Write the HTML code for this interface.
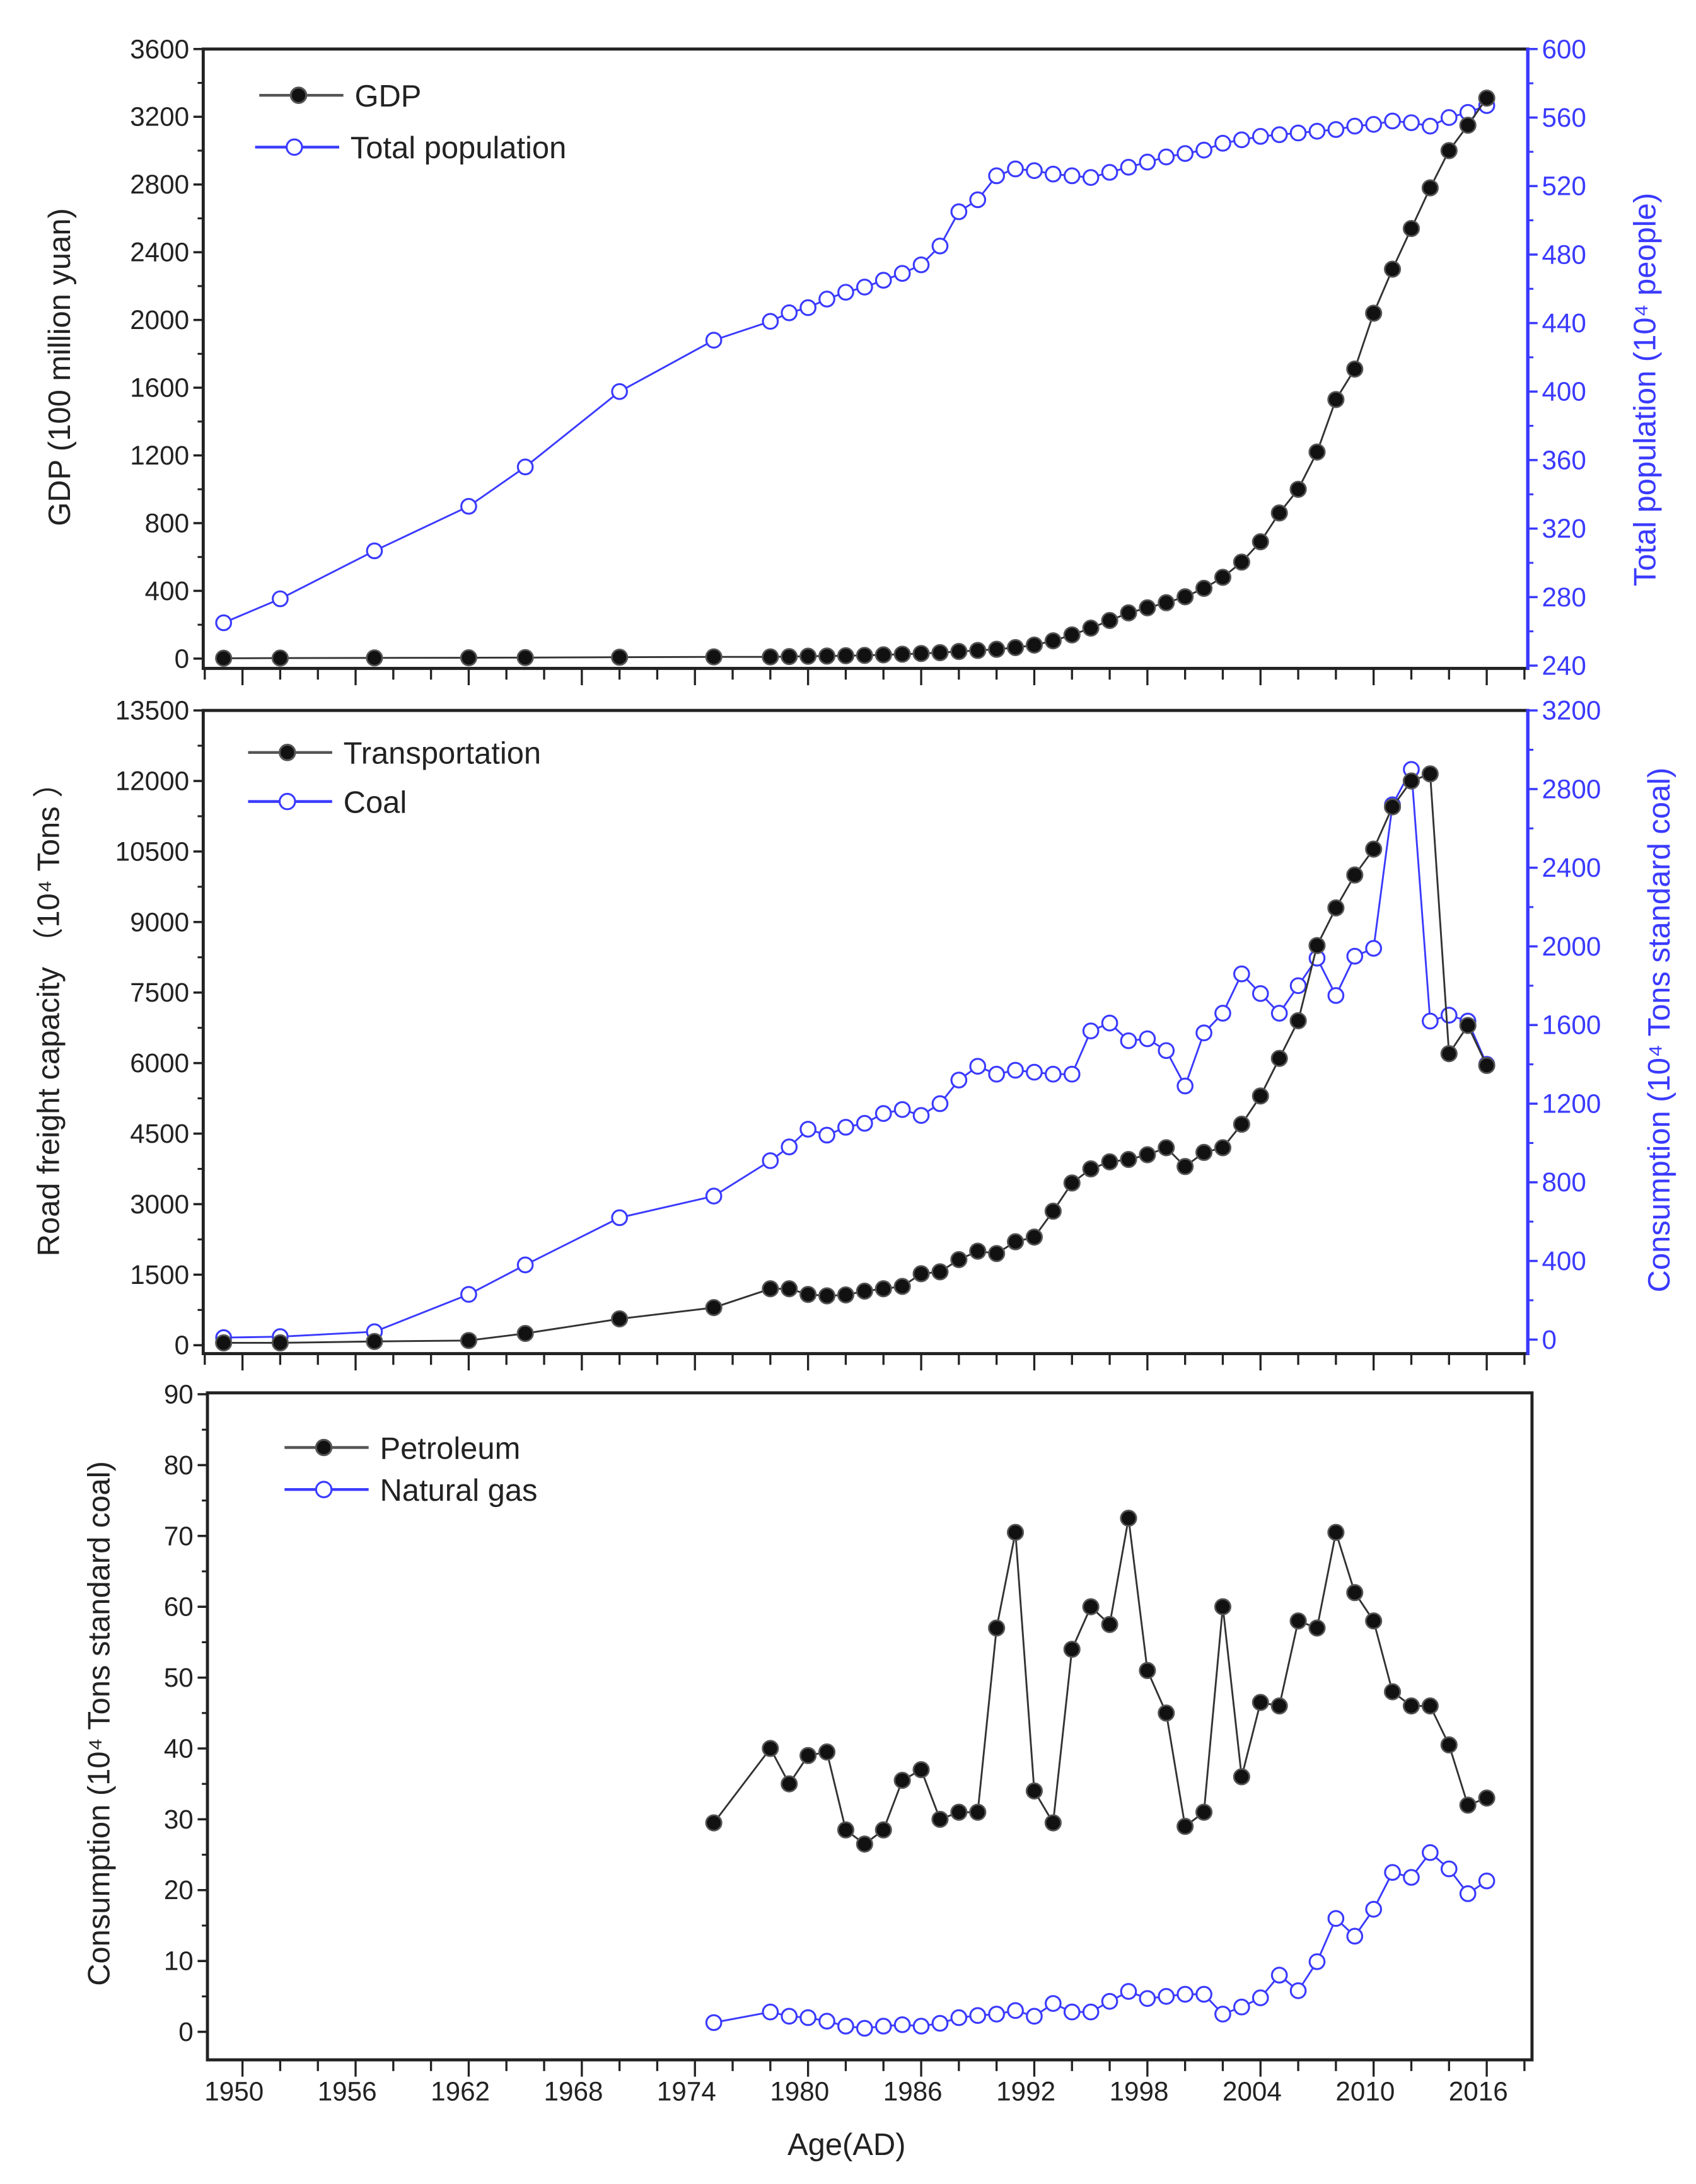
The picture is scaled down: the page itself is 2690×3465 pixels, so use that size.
<!DOCTYPE html>
<html><head><meta charset="utf-8"><style>
html,body{margin:0;padding:0;background:#fff;}
svg{display:block;}
text{font-family:"Liberation Sans",Arial,sans-serif;}
</style></head><body>
<svg id="chart" xmlns="http://www.w3.org/2000/svg" width="2690" height="3465" viewBox="0 0 1210 1558.6">
<rect width="1210" height="1558.6" fill="#fff"/>
<g id="g"></g>
</svg>
<script>
// ---- data ----
const yearsA = [1949,1952,1957,1962,1965,1970,1975,1978,1979,1980,1981,1982,1983,1984,1985,1986,1987,1988,1989,1990,1991,1992,1993,1994,1995,1996,1997,1998,1999,2000,2001,2002,2003,2004,2005,2006,2007,2008,2009,2010,2011,2012,2013,2014,2015,2016];
const gdp = [2,3,4,5,6,8,10,10,12,14,15,17,19,22,26,30,35,42,48,55,65,80,105,140,180,225,270,300,330,365,415,480,570,690,860,1000,1220,1530,1710,2040,2300,2540,2780,3000,3150,3310];
const population = [265,279,307,333,356,400,430,441,446,449,454,458,461,465,469,474,485,505,512,526,530,529,527,526,525,528,531,534,537,539,541,545,547,549,550,551,552,553,555,556,558,557,555,560,563,567];
const transport = [50,50,80,100,250,560,800,1200,1200,1080,1050,1070,1150,1200,1250,1520,1560,1820,2000,1950,2200,2300,2850,3450,3750,3900,3950,4050,4200,3800,4100,4200,4700,5300,6100,6900,8500,9300,10000,10550,11450,12000,12150,6200,6800,5950];
const coal = [10,15,40,230,380,620,730,910,980,1070,1040,1080,1100,1150,1170,1140,1200,1320,1390,1350,1370,1360,1350,1350,1570,1610,1520,1530,1470,1290,1560,1660,1860,1760,1660,1800,1940,1750,1950,1990,2720,2900,1620,1650,1620,1400];
const yearsB = [1975,1978,1979,1980,1981,1982,1983,1984,1985,1986,1987,1988,1989,1990,1991,1992,1993,1994,1995,1996,1997,1998,1999,2000,2001,2002,2003,2004,2005,2006,2007,2008,2009,2010,2011,2012,2013,2014,2015,2016];
const petroleum = [29.5,40,35,39,39.5,28.5,26.5,28.5,35.5,37,30,31,31,57,70.5,34,29.5,54,60,57.5,72.5,51,45,29,31,60,36,46.5,46,58,57,70.5,62,58,48,46,46,40.5,32,33];
const naturalGas = [1.3,2.8,2.2,2.0,1.5,0.8,0.5,0.8,1.0,0.8,1.2,2.0,2.3,2.5,3.0,2.2,4.0,2.8,2.8,4.3,5.7,4.7,5.0,5.3,5.3,2.5,3.5,4.8,8.0,5.8,9.9,16,13.5,17.3,22.5,21.8,25.3,23,19.5,21.3];
const xTickYears = [1950,1956,1962,1968,1974,1980,1986,1992,1998,2004,2010,2016];
const gdpTicks = [0,400,800,1200,1600,2000,2400,2800,3200,3600];
const popTicks = [240,280,320,360,400,440,480,520,560,600];
const freightTicks = [0,1500,3000,4500,6000,7500,9000,10500,12000,13500];
const coalTicks = [0,400,800,1200,1600,2000,2400,2800,3200];
const gasTicks = [0,10,20,30,40,50,60,70,80,90];

const NS="http://www.w3.org/2000/svg";
const G=document.getElementById('g');
function el(tag,attrs,parent){const e=document.createElementNS(NS,tag);for(const k in attrs)e.setAttribute(k,attrs[k]);(parent||G).appendChild(e);return e;}
function xs(yr){return 173+(yr-1950)*13.45;}
function lin(d0,d1,p0,p1){return v=>p0+(v-d0)/(d1-d0)*(p1-p0);}
const BLUE="#3a3aff";

function txt(s,x,y,size,fill,anchor,rot,name){
  const t=el('text',{x:x,y:y,'font-size':size,fill:fill,'text-anchor':anchor||'middle'});
  if(rot) t.setAttribute('transform','rotate(-90 '+x+' '+y+')');
  t.textContent=s;
  
  
  return t;
}

function panel(o){
  const g=el('g',{});
  
  
  const L=o.left,R=o.right,T=o.top,B=o.bottom;
  const fr=el('rect',{x:L,y:T,width:R-L,height:B-T,fill:'none',stroke:'#222','stroke-width':2.2},g);
  
  
  if(o.rightColor!=='#222'){
    const ra=el('line',{x1:R,y1:T-1,x2:R,y2:B+1,stroke:o.rightColor,'stroke-width':2.4},g);
    
    
  }
  const yl=o.yl, yr=o.yr;
  o.lt.forEach((v,i)=>{
    const y=yl(v);
    el('line',{x1:L-7,y1:y,x2:L,y2:y,stroke:'#222','stroke-width':1.6},g);
    if(i<o.lt.length-1){const ym=yl(v+(o.lt[1]-o.lt[0])/2);el('line',{x1:L-4,y1:ym,x2:L,y2:ym,stroke:'#222','stroke-width':1.4},g);}
    txt(String(v),L-10,y+6.5,19,'#222','end',false,'left-tick-label');
  });
  if(o.rt){o.rt.forEach((v,i)=>{
    const y=yr(v);
    el('line',{x1:R,y1:y,x2:R+7,y2:y,stroke:o.rightColor,'stroke-width':1.6},g);
    if(i<o.rt.length-1){const ym=yr(v+(o.rt[1]-o.rt[0])/2);el('line',{x1:R,y1:ym,x2:R+4,y2:ym,stroke:o.rightColor,'stroke-width':1.4},g);}
    txt(String(v),R+10,y+6.5,19,o.rightColor,'start',false,'right-tick-label');
  });}
  for(let yv=1948;yv<=2018;yv+=2){
    const x=xs(yv); if(x<L||x>R)continue;
    const major=(yv-1950)%6===0;
    el('line',{x1:x,y1:B,x2:x,y2:B+(major?12:8),stroke:'#222','stroke-width':1.5},g);
  }
  return g;
}
function series(g,xsArr,vals,scale,color,filled,name){
  const pts=xsArr.map((y,i)=>xs(y)+','+scale(vals[i])).join(' ');
  const pl=el('polyline',{points:pts,fill:'none',stroke:filled?'#333':color,'stroke-width':1.3},g);
  
  
  xsArr.forEach((y,i)=>{
    const c=el('circle',{cx:xs(y),cy:scale(vals[i]),r:filled?5.5:5.3,fill:filled?'#111':'#fff',stroke:filled?'#555':color,'stroke-width':filled?1.2:1.4},g);
    
    
  });
}
function legend(g,x,y,label,color,filled,name){
  const lg=el('g',{},g);
  
  
  el('line',{x1:x,y1:y,x2:x+60,y2:y,stroke:filled?'#555':color,'stroke-width':2},lg);
  el('circle',{cx:x+28,cy:y,r:5.5,fill:filled?'#111':'#fff',stroke:filled?'#555':color,'stroke-width':1.4},lg);
  txt(label,x+68,y+8,22,'#222','start',false,name+'-label');
}

// Panel 1
const y1=lin(0,3600,470,35), y1r=lin(240,600,475,35);
const p1=panel({name:'gdp-population-panel',left:145,right:1090,top:35,bottom:477,yl:y1,yr:y1r,lt:gdpTicks,rt:popTicks,rightColor:BLUE});
series(p1,yearsA,population,y1r,BLUE,false,'population');
series(p1,yearsA,gdp,y1,'#222',true,'gdp');
legend(p1,185,68,'GDP','#222',true,'legend-gdp');
legend(p1,182,105,'Total population',BLUE,false,'legend-population');
txt('GDP (100 million yuan)',50,262,22,'#222','middle',true,'gdp-axis-title');
txt('Total population (10⁴ people)',1181,278,22,BLUE,'middle',true,'population-axis-title');

// Panel 2
const y2=lin(0,13500,960,507), y2r=lin(0,3200,956,507);
const p2=panel({name:'freight-coal-panel',left:145,right:1090,top:507,bottom:966,yl:y2,yr:y2r,lt:freightTicks,rt:coalTicks,rightColor:BLUE});
series(p2,yearsA,coal,y2r,BLUE,false,'coal');
series(p2,yearsA,transport,y2,'#222',true,'transportation');
legend(p2,177,537,'Transportation','#222',true,'legend-transportation');
legend(p2,177,572,'Coal',BLUE,false,'legend-coal');
txt('Road freight capacity （10⁴ Tons ）',42,722,22,'#222','middle',true,'freight-axis-title');
txt('Consumption (10⁴ Tons standard coal)',1191,735,22,BLUE,'middle',true,'coal-axis-title');

// Panel 3
const y3=lin(0,90,1450,995);
const p3=panel({name:'petroleum-gas-panel',left:148,right:1093,top:994,bottom:1470,yl:y3,lt:gasTicks,rightColor:'#222'});
series(p3,yearsB,naturalGas,y3,BLUE,false,'natural-gas');
series(p3,yearsB,petroleum,y3,'#222',true,'petroleum');
legend(p3,203,1033,'Petroleum','#222',true,'legend-petroleum');
legend(p3,203,1063,'Natural gas',BLUE,false,'legend-natural-gas');
txt('Consumption (10⁴ Tons standard coal)',78,1230,22,'#222','middle',true,'consumption-axis-title');
xTickYears.forEach(yv=>{txt(String(yv),xs(yv)-6,1499,19,'#222','middle',false,'x-tick-label');});
txt('Age(AD)',604,1538,22,'#222','middle',false,'x-axis-title');
</script>
</body></html>
